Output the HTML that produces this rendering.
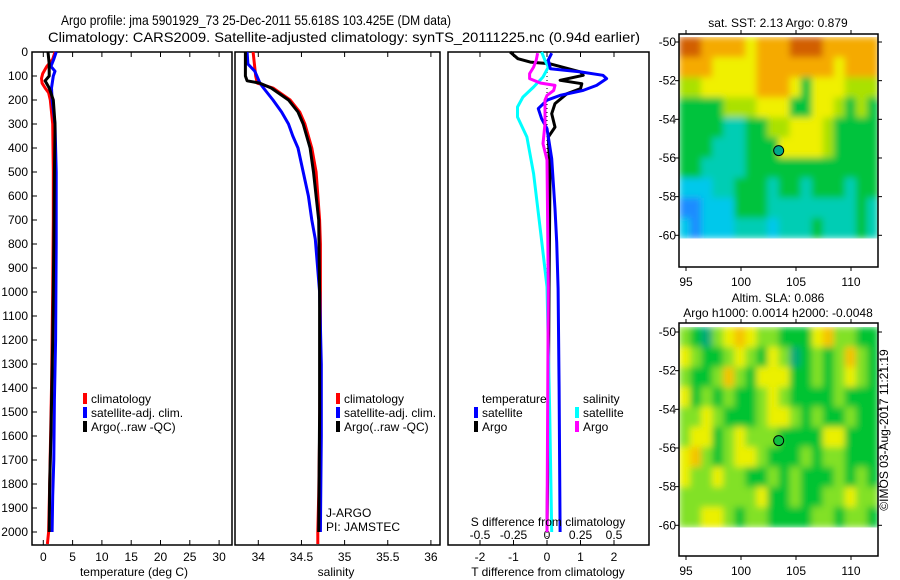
<!DOCTYPE html>
<html><head><meta charset="utf-8">
<style>
html,body{margin:0;padding:0;background:#fff;}
svg{display:block;font-family:"Liberation Sans",sans-serif;}
</style></head>
<body>
<svg id="chart" width="900" height="580" viewBox="0 0 900 580" xmlns="http://www.w3.org/2000/svg">
<defs>
<filter id="soft" x="0" y="0" width="1" height="1" filterUnits="objectBoundingBox">
<feGaussianBlur stdDeviation="3.5" edgeMode="duplicate"/>
</filter>
</defs>
<text x="61" y="25" font-size="14" textLength="390" lengthAdjust="spacingAndGlyphs">Argo profile: jma 5901929_73 25-Dec-2011 55.618S 103.425E (DM data)</text>
<text x="48" y="42" font-size="14" textLength="592" lengthAdjust="spacingAndGlyphs">Climatology: CARS2009. Satellite-adjusted climatology: synTS_20111225.nc (0.94d earlier)</text>
<g id="g1"></g>
<g id="g2"></g>
<g id="g3"></g>
<g id="m1"></g>
<g id="m2"></g>
<text x="0" y="0" font-size="12" transform="translate(888,430) rotate(-90)" text-anchor="middle">©IMOS 03-Aug-2017 11:21:19</text>
</svg>
<script>
// ---- data ----
const depthT_clim = [0,30,60,90,110,130,150,170,200,300,500,700,1000,1400,1800,2000,2050];
const temp_clim   = [2.0,1.6,0.6,-0.1,-0.3,-0.2,0.3,0.9,1.2,1.6,1.7,1.7,1.6,1.4,1.1,0.9,0.7];
const depthT_sat  = [0,30,60,80,100,150,200,300,500,800,1200,1450,1700,1850,2000];
const temp_sat    = [2.2,1.8,1.3,2.0,1.7,1.4,1.5,2.0,2.2,2.2,2.1,1.9,1.8,1.6,1.5];
const depthT_argo = [0,50,100,120,150,200,300,340,500,800,1200,1600,1800,2000];
const temp_argo   = [0.8,1.0,1.0,0.3,1.0,1.7,2.0,2.0,1.9,1.8,1.6,1.3,1.1,1.0];
const depthS_clim = [0,100,130,150,200,250,300,400,500,700,800,1200,1600,1850,2000,2050];
const sal_clim    = [33.94,33.97,33.99,34.17,34.37,34.48,34.54,34.62,34.67,34.71,34.72,34.72,34.71,34.70,34.69,34.69];
const depthS_sat  = [0,50,80,130,150,200,250,300,350,400,500,600,700,780,1000,1300,1600,2000];
const sal_sat     = [33.87,33.88,33.96,34.02,34.06,34.17,34.27,34.35,34.40,34.46,34.52,34.58,34.62,34.66,34.71,34.73,34.73,34.72];
const depthS_argo = [0,100,120,130,150,200,250,300,400,500,700,1000,1500,2000];
const sal_argo    = [33.85,33.85,33.87,34.02,34.15,34.35,34.46,34.52,34.60,34.64,34.70,34.71,34.71,34.70];
const depthD_tsat = [5,33,70,83,97,111,139,160,181,201,236,278,319,444,653,792,986,1400,2000];
const dT_sat      = [0.14,0.04,0.1,1.0,1.67,1.78,1.48,1.08,0.39,0,-0.26,-0.16,0,0.14,0.24,0.29,0.33,0.36,0.39];
const depthD_targo= [0,28,42,49,83,97,118,132,153,174,215,257,313,354,507,1000,1500,2000];
const dT_argo     = [-1.1,-0.87,-0.5,0.09,1.0,1.08,0.39,1.04,1.0,0.59,0.24,0.14,0.24,0.04,0.09,0.06,0.04,0];
const depthD_ssat = [0,35,63,104,146,188,229,271,354,507,646,785,979,1500,2000];
const dS_sat      = [-0.04,-0.015,0.01,-0.03,-0.10,-0.18,-0.22,-0.22,-0.15,-0.10,-0.07,-0.04,0,0.02,0.035];
const depthD_sargo= [5,33,63,90,111,129,139,160,181,201,299,382,450,979,2000];
const dS_argo     = [-0.07,-0.08,-0.10,-0.13,-0.13,-0.05,0.06,0.05,0,-0.015,-0.015,-0.03,0,0.01,0];
const depthTicks = [0,100,200,300,400,500,600,700,800,900,1000,1100,1200,1300,1400,1500,1600,1700,1800,1900,2000];
const tempTicks = [0,5,10,15,20,25,30];
const salTicks = [34,34.5,35,35.5,36];
const salTickLabels = ["34","34.5","35","35.5","36"];
const dTTicks = [-2,-1,0,1,2];
const dSTicks = [-0.5,-0.25,0,0.25,0.5];
const dSTickLabels = ["-0.5","-0.25","0","0.25","0.5"];
const sstGrid = [
[7,7,6,6,6,6,5,6,6,6,7,7,7,6,6,6,6,6],
[6,6,6,5,5,5,5,6,6,6,6,6,6,6,5,6,6,6],
[4,4,5,5,5,5,5,6,6,6,5,3,5,5,5,4,4,4],
[3,3,3,3,4,4,4,5,5,5,3,3,5,5,4,3,4,3],
[3,3,3,3,2,2,3,3,4,4,5,5,5,4,3,3,3,3],
[3,3,3,2,2,2,3,3,3,5,5,5,5,4,3,3,3,3],
[3,3,2,2,2,2,3,3,3,3,3,3,3,3,3,3,3,3],
[1,1,1,2,2,3,3,3,2,3,3,2,3,3,3,2,3,3],
[0,0,1,1,1,3,3,3,2,2,2,2,2,2,2,2,3,2],
[1,0,1,1,1,2,2,2,1,2,2,2,3,2,2,2,3,2]];
const slaGrid = [
[2,1,0,2,3,4,3,2,2,1,1,1,3,4,2,2,1,1],
[3,2,1,1,2,3,2,1,3,2,0,1,2,1,2,4,2,1],
[2,1,1,2,4,2,1,3,3,3,1,1,2,1,2,3,2,1],
[3,1,2,1,2,1,1,2,3,2,1,1,1,1,2,1,1,1],
[2,2,3,2,1,1,1,2,3,3,2,1,2,1,1,2,1,1],
[2,3,3,1,2,3,2,2,2,1,1,1,1,3,3,1,1,1],
[3,4,2,1,2,3,3,2,1,1,1,2,1,2,2,1,1,1],
[3,2,2,3,2,2,1,1,2,1,2,1,1,1,2,1,2,1],
[2,2,2,2,2,2,2,3,1,1,2,1,1,2,2,3,2,2],
[2,2,3,3,2,1,2,2,1,1,1,1,2,2,1,2,2,1]];
const lonTicks = [95,100,105,110];
const latTicks = [-50,-52,-54,-56,-58,-60];
const argoLon = 103.425, argoLat = -55.618;

// ---- helpers ----
const NS="http://www.w3.org/2000/svg";
function mk(parent,tag,attrs){const e=document.createElementNS(NS,tag);for(const k in attrs)e.setAttribute(k,attrs[k]);parent.appendChild(e);return e;}
function txt(parent,x,y,s,size,anchor){const e=mk(parent,'text',{x:x,y:y,'font-size':size,'text-anchor':anchor||'start'});e.textContent=s;return e;}
const PT=52, PB=545;
const yD = d => PT + d*0.24;

function panel(g,x0,x1){
  const r=mk(g,'rect',{x:x0,y:PT,width:x1-x0,height:PB-PT,fill:'none',stroke:'#000','stroke-width':1.5});
  
  
}
function line(g,xs,ds,xf,color,name,w){
  const pts=xs.map((v,i)=>xf(v).toFixed(1)+','+yD(ds[i]).toFixed(1)).join(' ');
  const p=mk(g,'polyline',{points:pts,fill:'none',stroke:color,'stroke-width':w||3,'stroke-linejoin':'round'});
  
  
}
function xticks(g,ticks,labels,xf,ly,top,name){
  ticks.forEach((t,i)=>{
    const x=xf(t);
    mk(g,'line',{x1:x,x2:x,y1:PB,y2:PB-5,stroke:'#000','stroke-width':1});
    if(top) mk(g,'line',{x1:x,x2:x,y1:PT,y2:PT+5,stroke:'#000','stroke-width':1});
    const e=txt(g,x,ly,labels[i],12,'middle');
    
    
  });
}
function legendEntry(g,x,y,color,label){
  if(color) mk(g,'rect',{x:x-8,y:y-10,width:4,height:11,fill:color});
  const e=txt(g,x,y,label,12);
  
  
}

// ---- temperature panel ----
const g1=document.getElementById('g1');
const xT = t => 43.3 + t*5.86;
panel(g1,32,232);
depthTicks.forEach(d=>{
  const y=yD(d);
  mk(g1,'line',{x1:32,x2:37,y1:y,y2:y,stroke:'#000','stroke-width':1});
  const e=txt(g1,28,y+4,String(d),12,'end');
  
  
});
xticks(g1,tempTicks,tempTicks.map(String),xT,561,true,'temp-tick-label');
line(g1,temp_clim,depthT_clim,xT,'#ff0000','temp-climatology-line');
line(g1,temp_sat,depthT_sat,xT,'#0000ff','temp-satellite-line');
line(g1,temp_argo,depthT_argo,xT,'#000000','temp-argo-line');
legendEntry(g1,91,403,'#ff0000','climatology');
legendEntry(g1,91,417,'#0000ff','satellite-adj. clim.');
legendEntry(g1,91,431,'#000000','Argo(..raw -QC)');
txt(g1,134,576,'temperature (deg C)',12,'middle');

// ---- salinity panel ----
const g2=document.getElementById('g2');
const xS = s => 258.3 + (s-34)*86.3;
panel(g2,235,440);
xticks(g2,salTicks,salTickLabels,xS,561,true,'salinity-tick-label');
line(g2,sal_clim,depthS_clim,xS,'#ff0000','sal-climatology-line');
line(g2,sal_sat,depthS_sat,xS,'#0000ff','sal-satellite-line');
line(g2,sal_argo,depthS_argo,xS,'#000000','sal-argo-line');
legendEntry(g2,344,403,'#ff0000','climatology');
legendEntry(g2,344,417,'#0000ff','satellite-adj. clim.');
legendEntry(g2,344,431,'#000000','Argo(..raw -QC)');
txt(g2,326,517,'J-ARGO',12);
txt(g2,326,531,'PI: JAMSTEC',12);
txt(g2,336,576,'salinity',12,'middle');

// ---- difference panel ----
const g3=document.getElementById('g3');
const xDT = t => 547 + t*33.5;
const xDS = s => 547 + s*134;
panel(g3,448,649);
mk(g3,'line',{x1:547,x2:547,y1:PT,y2:PB,stroke:'#000','stroke-width':1,'stroke-dasharray':'1,3'});
xticks(g3,dTTicks,dTTicks.map(String),xDT,561,false,'t-diff-tick-label');
dSTicks.forEach((t,i)=>{
  const x=xDS(t);
  mk(g3,'line',{x1:x,x2:x,y1:PT,y2:PT+5,stroke:'#000','stroke-width':1});
  const e=txt(g3,x,539,dSTickLabels[i],12,'middle');
  
  
});
line(g3,dT_argo,depthD_targo,xDT,'#000000','t-diff-argo-line');
line(g3,dS_sat,depthD_ssat,xDS,'#00ffff','s-diff-satellite-line');
line(g3,dT_sat,depthD_tsat,xDT,'#0000ff','t-diff-satellite-line');
line(g3,dS_argo,depthD_sargo,xDS,'#ff00ff','s-diff-argo-line');
legendEntry(g3,482,403,null,'temperature');
legendEntry(g3,482,417,'#0000ff','satellite');
legendEntry(g3,482,431,'#000000','Argo');
legendEntry(g3,583,403,null,'salinity');
legendEntry(g3,583,417,'#00ffff','satellite');
legendEntry(g3,583,431,'#ff00ff','Argo');
txt(g3,548,526,'S difference from climatology',12,'middle');
txt(g3,548,576,'T difference from climatology',12,'middle');

// ---- maps ----
const sstStops=[[30,140,255],[0,200,235],[0,205,180],[0,195,60],[170,225,0],[240,240,0],[245,170,0],[210,95,0]];
const slaStops=[[0,170,120],[0,195,50],[130,225,40],[235,240,0],[245,195,0]];
function mapPanel(g,grid,stops,fy,dataTop,dataBot,title1,title2,markFill){
  const fx0=679,fx1=878,fyTop=fy,fyBot=fy+233;
  const lx = lon => 686 + (lon-95)*11;
  const ly = lat => (dataTop+5) + (-50-lat)*19.33;
  const ncol=grid[0].length, nrow=grid.length;
  const cw=(fx1-fx0)/ncol, ch=(dataBot-dataTop)/nrow;
  const cells=mk(g,'g',{filter:'url(#soft)'});
  
  
  grid.forEach((row,r)=>row.forEach((v,c)=>{
    const col=stops[v];
    const cell=mk(cells,'rect',{x:(fx0+c*cw).toFixed(1),y:(dataTop+r*ch).toFixed(1),width:(cw+0.5).toFixed(1),height:(ch+0.5).toFixed(1),fill:'rgb('+col.join(',')+')'});
    
    
  }));
  const fr=mk(g,'rect',{x:fx0,y:fyTop,width:fx1-fx0,height:fyBot-fyTop,fill:'none',stroke:'#000','stroke-width':1.5});
  
  
  latTicks.forEach(lat=>{
    const y=ly(lat);
    mk(g,'line',{x1:fx0-4,x2:fx0,y1:y,y2:y,stroke:'#000'});
    mk(g,'line',{x1:fx1,x2:fx1+4,y1:y,y2:y,stroke:'#000'});
    const e=txt(g,676,y+4,String(lat),12,'end');
    
    
  });
  lonTicks.forEach(lon=>{
    const x=lx(lon);
    mk(g,'line',{x1:x,x2:x,y1:fyBot,y2:fyBot+4,stroke:'#000'});
    mk(g,'line',{x1:x,x2:x,y1:fyTop-4,y2:fyTop,stroke:'#000'});
    const e=txt(g,x,fyBot+19,String(lon),12,'middle');
    
    
  });
  const c=mk(g,'circle',{cx:lx(argoLon),cy:ly(argoLat),r:5,fill:markFill,stroke:'#000','stroke-width':1});
  
  
  if(title2){
    txt(g,778,fy-21,title1,12,'middle');
    txt(g,778,fy-6,title2,12,'middle');
  } else {
    txt(g,778,fy-7,title1,12,'middle');
  }
}
mapPanel(document.getElementById('m1'),sstGrid,sstStops,34,37,238,'sat. SST: 2.13 Argo: 0.879',null,'#00a88a');
mapPanel(document.getElementById('m2'),slaGrid,slaStops,323,327,527,'Altim. SLA: 0.086','Argo h1000: 0.0014 h2000: -0.0048','#10c040');
</script>
</body></html>
